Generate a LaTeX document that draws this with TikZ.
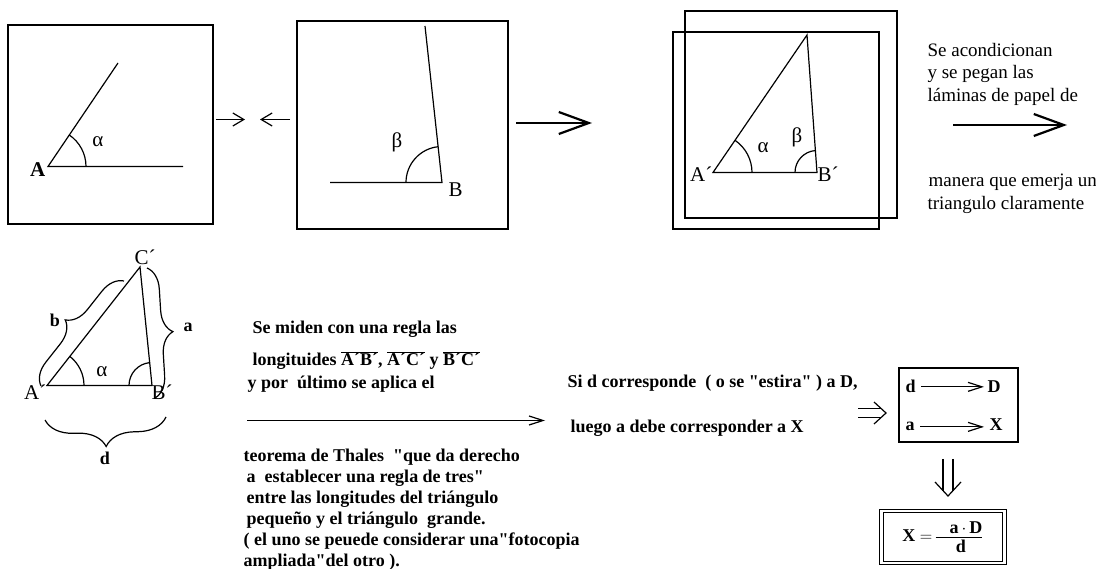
\documentclass[tikz,border=0pt]{standalone}
\usepackage{fontspec}
\setmainfont{Liberation Serif}[Ligatures=TeXOff]
\usetikzlibrary{arrows.meta,decorations.pathreplacing}
\tikzset{
  sheet/.style={draw,line width=1.5pt},
  barb/.style={-{Straight Barb[length=11pt,width=13pt]}},
  bigbarb/.style={line width=2.6pt,-{Straight Barb[length=30pt,width=22pt,line width=2.2pt]}},
  thinbarb/.style={-{Straight Barb[length=14pt,width=9pt]}},
  brc/.style={decorate,decoration={brace,amplitude=#1}},
  lbl/.style={font=\fontsize{21}{23}\selectfont,inner sep=0pt},
  txt/.style={anchor=base west,font=\fontsize{18}{20}\selectfont\bfseries,inner sep=0pt},
  rtxt/.style={anchor=base west,font=\fontsize{19}{21}\selectfont,inner sep=0pt},
}
\begin{document}
\begin{tikzpicture}[x=1pt,y=-1pt,line width=1.2pt]
\useasboundingbox (0,0) rectangle (1096,569);
% first sheet, angle alpha
\draw[sheet] (8,25) rectangle (213,224);
\coordinate (A) at (48,166.5);
\coordinate (Ax) at (183,166.5);
\coordinate (Ay) at (118,63);
\draw (Ax) -- (A) -- (Ay);
\draw ([shift={(38,0)}]A) arc[start angle=0,end angle=56,radius=38pt];
\node[lbl,font=\fontsize{21}{23}\selectfont\bfseries,anchor=base east] (lA) at (46,177) {A};
\node[lbl] (la) at (98,142) {α};
% second sheet, angle beta
\draw[sheet] (297,21) rectangle (508,229);
\coordinate (B) at (442,182.5);
\coordinate (Bx) at (330,182.5);
\coordinate (By) at (425,26);
\draw (Bx) -- (B) -- (By);
\draw ([shift={(-36,0)}]B) arc[start angle=180,end angle=96,radius=36pt];
\node[lbl,anchor=base west] (lB) at (448,197) {B};
\node[lbl] (lb) at (397,142) {β};
\coordinate (m1) at (216,119.5);
\coordinate (m2) at (245,119.5);
\coordinate (m3) at (290,119.5);
\coordinate (m4) at (260,119.5);
\draw[barb] (m1) -- (m2);
\draw[barb] (m3) -- (m4);
\coordinate (g1) at (516,123);
\coordinate (g2) at (592,123);
\draw[bigbarb] (g1) -- (g2);
% both sheets glued
\draw[sheet] (685,11) rectangle (897,218);
\draw[sheet] (673,32) rectangle (879,229);
\coordinate (A1) at (713,172.5);
\coordinate (B1) at (817,172.5);
\coordinate (C1) at (807,35);
\draw (A1) -- (B1) -- (C1) -- cycle;
\draw ([shift={(39,0)}]A1) arc[start angle=0,end angle=55.5,radius=39pt];
\draw ([shift={(-22,0)}]B1) arc[start angle=180,end angle=94,radius=22pt];
\node[lbl,anchor=base east] (lA1) at (713,182) {A´};
\node[lbl,anchor=base west] (lB1) at (817,182) {B´};
\node[lbl] (la1) at (763,148) {α};
\node[lbl] (lb1) at (797,137) {β};
\node[rtxt] (t1) at (927,57) {Se acondicionan};
\node[rtxt] (t2) at (927,79) {y se pegan las};
\node[rtxt] (t3) at (927,102) {láminas de papel de};
\coordinate (r1) at (953,125);
\coordinate (r2) at (1067,125);
\draw[bigbarb] (r1) -- (r2);
\node[rtxt] (t4) at (928,187) {manera que emerja un};
\node[rtxt] (t5) at (927,210) {triangulo claramente};
% triangle with the measured sides
\coordinate (A2) at (47,385.5);
\coordinate (B2) at (152,385.5);
\coordinate (C2) at (140,267);
\draw (A2) -- (B2) -- (C2) -- cycle;
\draw ([shift={(37,0)}]A2) arc[start angle=0,end angle=52,radius=37pt];
\draw ([shift={(-23,0)}]B2) arc[start angle=180,end angle=96,radius=23pt];
\draw[brc=22pt] (41,386) -- (124,281);
\draw[brc=22pt] (147,268) -- (155,398);
\draw[brc=28pt] (166,417) -- (45,420);
\node[lbl,anchor=base] (lC2) at (145,265) {C´};
\node[lbl,anchor=base east] (lA2) at (47,400) {A´};
\node[lbl,anchor=base west] (lB2) at (151,400) {B´};
\node[lbl] (la2) at (102,372) {α};
\node[txt,anchor=center] (lb2) at (55,320) {b};
\node[txt,anchor=center] (laa) at (188,327) {a};
\node[txt,anchor=center] (ld) at (105,458) {d};
% text in the middle
\node[txt] (s1) at (252,334) {Se miden con una regla las};
\node[txt] (s2) at (252,366) {longituides $\overline{\mbox{A´B´}}$, $\overline{\mbox{A´C´}}$ y $\overline{\mbox{B´C´}}$};
\node[txt] (s3) at (247,389) {y por~ último se aplica el};
\coordinate (h1) at (247,420.5);
\coordinate (h2) at (545,420.5);
\draw[thinbarb] (h1) -- (h2);
\node[txt,align=left,font=\fontsize{18}{21}\selectfont\bfseries,anchor=north west] (s4) at (243,448) {teorema de Thales~ "que da derecho\\
\,a~ establecer una regla de tres"\\
\,entre las longitudes del triángulo\\
\,pequeño y el triángulo~ grande.\\
( el uno se peuede considerar una"fotocopia\\
ampliada"del otro ).};
\node[txt] (s5) at (567,388) {Si d corresponde~ ( o se "estira" ) a D,};
\node[txt] (s6) at (570,433) {luego a debe corresponder a X};
% rule of three
\coordinate (i1) at (858,413);
\coordinate (i2) at (886,413);
\draw ([shift={(0,-4.5)}]i1) -- ([shift={(-5,-4.5)}]i2);
\draw ([shift={(0,4.5)}]i1) -- ([shift={(-5,4.5)}]i2);
\draw ([shift={(-12,-11)}]i2) -- (i2) -- ([shift={(-12,11)}]i2);
\node[draw,line width=1.5pt,minimum width=119pt,minimum height=74pt] (rule) at (958.5,405) {};
\node[txt] (rd) at (905,393) {d};
\node[txt] (rD) at (987,393) {D};
\node[txt] (ra) at (905,431) {a};
\node[txt] (rX) at (989,431) {X};
\draw[thinbarb,shorten <=5pt,shorten >=3pt] (rd.east) -- (rd.east -| rD.west);
\draw[thinbarb,shorten <=5pt,shorten >=5pt] (ra.east) -- (ra.east -| rX.west);
\coordinate (j1) at (948,459);
\coordinate (j2) at (948,496);
\draw ([shift={(-5,0)}]j1) -- ([shift={(-5,-5)}]j2);
\draw ([shift={(5,0)}]j1) -- ([shift={(5,-5)}]j2);
\draw ([shift={(-13,-14)}]j2) -- (j2) -- ([shift={(13,-14)}]j2);
\node[draw,double,double distance=2.5pt,line width=1.2pt,minimum width=123pt,minimum height=52pt,font=\fontsize{18}{20}\selectfont\bfseries] (res) at (943,537) {X $=\!\frac{\mbox{\hspace{14pt}a\,$\cdot$\,D\rule[-3pt]{0pt}{3pt}}}{\mbox{\hspace{4pt}d\rule{0pt}{15pt}}}$};
\end{tikzpicture}
\end{document}
